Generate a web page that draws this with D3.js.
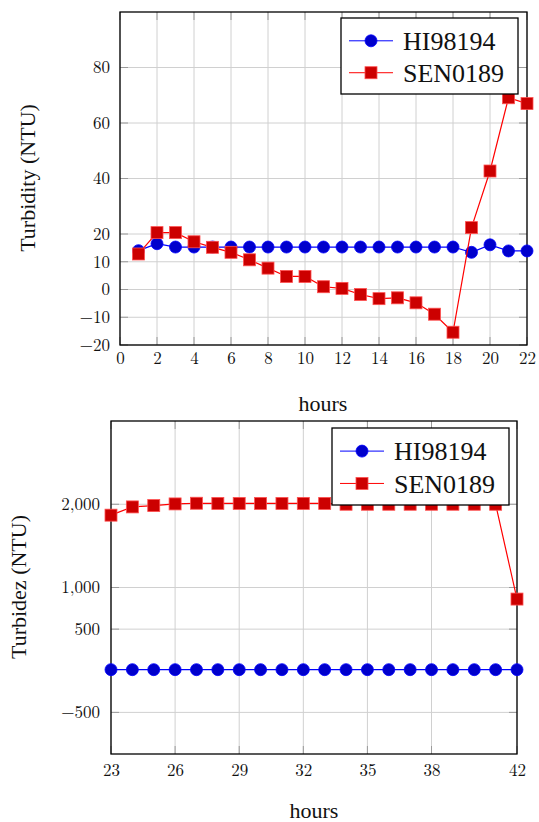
<!DOCTYPE html>
<html>
<head>
<meta charset="utf-8">
<script src="https://cdn.jsdelivr.net/npm/d3@7"></script>
<style>
  html, body { margin: 0; padding: 0; background: #fff; }
  svg { display: block; }
</style>
</head>
<body>
<svg id="chart" width="539" height="822"></svg>
<script>
// Turbidity readings, hours 1-22
const hoursA = d3.range(1, 23);
const hi98194A = [14.0, 16.5, 15.3, 15.3, 15.3, 15.3, 15.3, 15.3, 15.3, 15.3, 15.3,
                  15.3, 15.3, 15.3, 15.3, 15.3, 15.3, 15.3, 13.4, 16.1, 13.9, 13.9];
const sen0189A = [12.8, 20.5, 20.5, 17.2, 15.2, 13.4, 10.7, 7.7, 4.7, 4.7, 1.0,
                  0.4, -1.8, -3.3, -3.0, -4.8, -8.9, -15.4, 22.3, 42.7, 69.1, 67.0];
const xTicksA = d3.range(0, 23, 2);
const yTicksA = [-20, -10, 0, 10, 20, 40, 60, 80];

// Turbidity readings, hours 23-42
const hoursB = d3.range(23, 43);
const hi98194B = hoursB.map(() => 13);
const sen0189B = [1869, 1968, 1984, 2004, 2012, 2010, 2010, 2010, 2010, 2010, 2010,
                  2000, 2000, 2000, 2000, 2000, 2000, 2000, 2000, 861];
const xTicksB = [23, 26, 29, 32, 35, 38, 42];
const yTicksB = [-500, 500, 1000, 2000];

const seriesNames = ["HI98194", "SEN0189"];

const TICKFONT = "'Latin Modern Roman', 'Liberation Serif', serif";
const TEXTFONT = "'Liberation Serif', 'Times New Roman', serif";
const svg = d3.select("#chart");
const fmtMinus = d => (d < 0 ? "\u2212" + d3.format(",")(-d) : d3.format(",")(d));

function panel(cfg) {
  const g = svg.append("g");
  const x = d3.scaleLinear().domain(cfg.xDomain).range([cfg.left, cfg.right]);
  const y = d3.scaleLinear().domain(cfg.yDomain).range([cfg.bottom, cfg.top]);

  // grid
  g.append("g").selectAll("line").data(cfg.xTicks).join("line")
    .attr("x1", d => x(d)).attr("x2", d => x(d))
    .attr("y1", cfg.top).attr("y2", cfg.bottom)
    .attr("stroke", "#d0d0d0").attr("stroke-width", 1);
  g.append("g").selectAll("line").data(cfg.yTicks).join("line")
    .attr("x1", cfg.left).attr("x2", cfg.right)
    .attr("y1", d => y(d)).attr("y2", d => y(d))
    .attr("stroke", "#d0d0d0").attr("stroke-width", 1);

  // inward tick marks on all four sides
  const tl = 8;
  const tk = g.append("g").attr("stroke", "#9a9a9a").attr("stroke-width", 1);
  cfg.xTicks.forEach(d => {
    tk.append("line").attr("x1", x(d)).attr("x2", x(d)).attr("y1", cfg.bottom).attr("y2", cfg.bottom - tl);
    tk.append("line").attr("x1", x(d)).attr("x2", x(d)).attr("y1", cfg.top).attr("y2", cfg.top + tl);
  });
  cfg.yTicks.forEach(d => {
    tk.append("line").attr("x1", cfg.left).attr("x2", cfg.left + tl).attr("y1", y(d)).attr("y2", y(d));
    tk.append("line").attr("x1", cfg.right).attr("x2", cfg.right - tl).attr("y1", y(d)).attr("y2", y(d));
  });

  // axes (labels only; frame drawn separately)
  const xAxis = d3.axisBottom(x).tickValues(cfg.xTicks).tickSize(0).tickPadding(cfg.xPad).tickFormat(d3.format("d"));
  const gx = g.append("g").attr("transform", `translate(0,${cfg.bottom})`).call(xAxis);
  gx.select(".domain").remove();
  gx.selectAll("text").style("font-family", TICKFONT).style("font-size", "17px").attr("fill", "#111");

  const yAxis = d3.axisLeft(y).tickValues(cfg.yTicks).tickSize(0).tickPadding(cfg.yPad).tickFormat(fmtMinus);
  const gy = g.append("g").attr("transform", `translate(${cfg.left},0)`).call(yAxis);
  gy.select(".domain").remove();
  gy.selectAll("text").style("font-family", TICKFONT).style("font-size", "17px").attr("fill", "#111");

  // frame
  g.append("rect").attr("x", cfg.left).attr("y", cfg.top)
    .attr("width", cfg.right - cfg.left).attr("height", cfg.bottom - cfg.top)
    .attr("fill", "none").attr("stroke", "#000").attr("stroke-width", 1.3);

  // series
  const line = d3.line().x(d => x(d[0])).y(d => y(d[1]));
  const blue = cfg.xs.map((h, i) => [h, cfg.blue[i]]);
  const red = cfg.xs.map((h, i) => [h, cfg.red[i]]);

  g.append("path").datum(blue).attr("d", line).attr("fill", "none").attr("stroke", "#0000ff").attr("stroke-width", 1.2);
  g.append("g").selectAll("circle").data(blue).join("circle")
    .attr("cx", d => x(d[0])).attr("cy", d => y(d[1])).attr("r", 6)
    .attr("fill", "#0000cc").attr("stroke", "#0000ff").attr("stroke-width", 0.8);

  g.append("path").datum(red).attr("d", line).attr("fill", "none").attr("stroke", "#ff0000").attr("stroke-width", 1.2);
  const s = 12;
  g.append("g").selectAll("rect").data(red).join("rect")
    .attr("x", d => x(d[0]) - s / 2).attr("y", d => y(d[1]) - s / 2)
    .attr("width", s).attr("height", s)
    .attr("fill", "#cc0000").attr("stroke", "#ff5050").attr("stroke-width", 0.8);

  // axis titles
  g.append("text").attr("x", cfg.xTitle[0]).attr("y", cfg.xTitle[1])
    .attr("text-anchor", "middle").attr("fill", "#111")
    .style("font-family", TEXTFONT).style("font-size", "22px").text("hours");
  g.append("text").attr("transform", `translate(${cfg.yTitle[0]},${cfg.yTitle[1]}) rotate(-90)`)
    .attr("text-anchor", "middle").attr("dy", "0.35em").attr("fill", "#111")
    .style("font-family", TEXTFONT).style("font-size", "22px").text(cfg.yLabel);

  // legend
  const L = cfg.legend;
  const lg = g.append("g");
  lg.append("rect").attr("x", L.x).attr("y", L.y).attr("width", L.w).attr("height", L.h)
    .attr("fill", "#fff").attr("stroke", "#000").attr("stroke-width", 1.3);
  seriesNames.forEach((name, i) => {
    const cy = L.y + L.h * (i === 0 ? 0.30 : 0.72);
    const col = i === 0 ? "#0000ff" : "#ff0000";
    lg.append("line").attr("x1", L.x + 8).attr("x2", L.x + 52).attr("y1", cy).attr("y2", cy)
      .attr("stroke", col).attr("stroke-width", 1);
    if (i === 0) {
      lg.append("circle").attr("cx", L.x + 30).attr("cy", cy).attr("r", 6)
        .attr("fill", "#0000cc").attr("stroke", "#0000ff").attr("stroke-width", 0.8);
    } else {
      lg.append("rect").attr("x", L.x + 30 - s / 2).attr("y", cy - s / 2).attr("width", s).attr("height", s)
        .attr("fill", "#cc0000").attr("stroke", "#ff5050").attr("stroke-width", 0.8);
    }
    lg.append("text").attr("x", L.x + 62).attr("y", cy).attr("dy", "0.35em")
      .attr("fill", "#111").style("font-family", TEXTFONT).style("font-size", "26px").text(name);
  });
}

panel({
  xDomain: [0, 22], yDomain: [-20, 100],
  left: 120, right: 527, top: 12, bottom: 345,
  xTicks: xTicksA, yTicks: yTicksA, xPad: 7, yPad: 10,
  xs: hoursA, blue: hi98194A, red: sen0189A,
  xTitle: [323, 411], yTitle: [27, 178], yLabel: "Turbidity (NTU)",
  legend: { x: 341, y: 18, w: 177, h: 76 }
});

panel({
  xDomain: [23, 42], yDomain: [-1000, 3000],
  left: 111, right: 517, top: 421, bottom: 754,
  xTicks: xTicksB, yTicks: yTicksB, xPad: 10, yPad: 11,
  xs: hoursB, blue: hi98194B, red: sen0189B,
  xTitle: [314, 818], yTitle: [18, 587], yLabel: "Turbidez (NTU)",
  legend: { x: 332, y: 428, w: 177, h: 77 }
});
</script>
</body>
</html>
